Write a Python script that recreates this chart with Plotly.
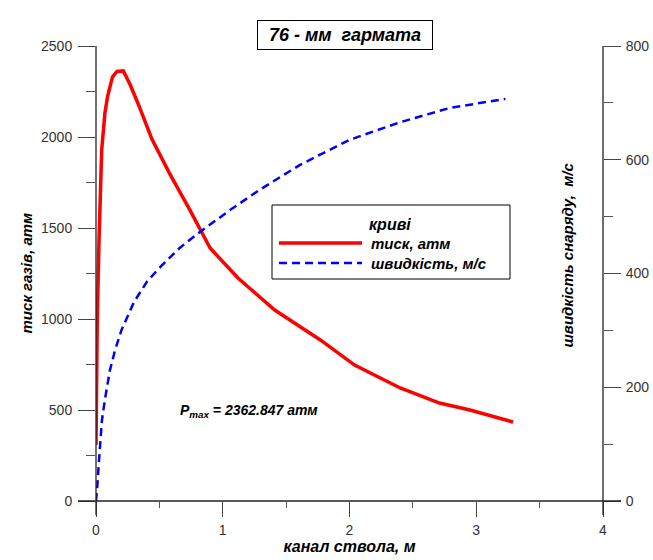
import plotly.graph_objects as go

# Gas pressure along the barrel (м, атм)
x_pressure = [0, 0.01, 0.024, 0.045, 0.07, 0.092, 0.13, 0.165, 0.215, 0.268,
              0.334, 0.44, 0.58, 0.74, 0.9, 1.12, 1.41, 1.77, 2.04, 2.4,
              2.71, 2.95, 3.29]
pressure = [308, 1000, 1440, 1930, 2130, 2225, 2330, 2360, 2362.847, 2290,
            2180, 1990, 1800, 1600, 1390, 1225, 1049, 885, 747, 621,
            538, 500, 434]

# Projectile velocity along the barrel (м, м/с)
x_velocity = [0, 0.008, 0.024, 0.047, 0.07, 0.11, 0.15, 0.2, 0.3, 0.4, 0.5,
              0.66, 0.82, 1.06, 1.29, 1.61, 2.0, 2.4, 2.79, 3.23]
velocity = [0, 19, 72, 142, 178, 230, 265, 300, 350, 385, 410,
            445, 473, 512, 547, 591, 635, 666, 691, 707]

p_max = max(pressure)

FONT = "Liberation Sans, Arial, sans-serif"
W, H = 653, 560
L, R, T, B = 96, 50, 46, 59
PW, PH = W - L - R, H - T - B


def px(xp):
    return (xp - L) / PW


def py(yp):
    return (H - B - yp) / PH


fig = go.Figure()
fig.add_trace(go.Scatter(
    x=x_pressure, y=pressure, mode="lines", name="тиск, атм",
    line=dict(color="#ff0000", width=3.5), yaxis="y", showlegend=False))
fig.add_trace(go.Scatter(
    x=x_velocity, y=velocity, mode="lines", name="швидкість, м/с",
    line=dict(color="#0000ff", width=2.5, dash="8px,5px"), yaxis="y2",
    showlegend=False))

tick_font = dict(family=FONT, size=14, color="#333333")
axis_common = dict(showgrid=False, zeroline=False, showline=False,
                   ticks="outside", tickcolor="#444444", tickwidth=1.3,
                   tickfont=tick_font, automargin=False)
minor_style = dict(ticks="outside", tickcolor="#555555", tickwidth=1.3)

fig.update_layout(
    width=W, height=H, margin=dict(l=L, r=R, t=T, b=B, autoexpand=False),
    paper_bgcolor="white", plot_bgcolor="white",
    font=dict(family=FONT),
    xaxis=dict(range=[0, 4], dtick=1, tick0=0, ticklen=15,
               ticklabelstandoff=1,
               title=dict(text="<b><i>канал ствола, м</i></b>", standoff=4,
                          font=dict(family=FONT, size=16, color="black")),
               minor=dict(dtick=0.5, ticklen=6, **minor_style),
               **axis_common),
    yaxis=dict(range=[0, 2500], dtick=500, tick0=0, ticklen=17,
               ticklabelstandoff=3,
               minor=dict(dtick=250, ticklen=9, **minor_style),
               **axis_common),
    yaxis2=dict(range=[0, 800], dtick=200, tick0=0, ticklen=17,
                ticklabelstandoff=2,
                overlaying="y", side="right", anchor="x",
                minor=dict(dtick=100, ticklen=9, **minor_style),
                **axis_common),
)

# Axis lines, extended past the corners
ext_x = 18 / PW
ext_y = 14 / PH
line_style = dict(color="#222222", width=1.3)
fig.add_shape(type="line", xref="paper", yref="paper",
              x0=-ext_x, x1=1 + ext_x, y0=0, y1=0, line=line_style)
fig.add_shape(type="line", xref="paper", yref="paper",
              x0=0, x1=0, y0=-ext_y, y1=1, line=line_style)
fig.add_shape(type="line", xref="paper", yref="paper",
              x0=1, x1=1, y0=-ext_y, y1=1, line=line_style)

bi = dict(family=FONT, color="black")

# Title box
fig.add_annotation(xref="paper", yref="paper", x=px(345), y=py(20),
                   text="<b><i>76 - мм  гармата</i></b>", showarrow=False,
                   font=dict(size=18, **bi), width=172, height=26,
                   bordercolor="black", borderwidth=1, borderpad=1,
                   bgcolor="white")

# Vertical axis titles
fig.add_annotation(xref="paper", yref="paper", x=px(15), y=py(273),
                   text="<b><i>тиск газів, атм</i></b>", showarrow=False,
                   textangle=-90, font=dict(size=15, **bi))
fig.add_annotation(xref="paper", yref="paper", x=px(577), y=py(255),
                   text="<b><i>швидкість снаряду,  м/с</i></b>",
                   showarrow=False, textangle=-90, font=dict(size=15, **bi))

# Peak pressure note
fig.add_annotation(xref="paper", yref="paper", x=px(178), y=py(422),
                   xanchor="left",
                   text=f"<b><i>P<sub>max</sub> = {p_max:.3f} атм</i></b>",
                   showarrow=False, font=dict(size=14, **bi))

# Legend panel
fig.add_shape(type="rect", xref="paper", yref="paper",
              x0=px(272), x1=px(510), y0=py(279), y1=py(205),
              line=dict(color="black", width=1), fillcolor="white")
fig.add_annotation(xref="paper", yref="paper", x=px(390), y=py(224),
                   text="<b><i>криві</i></b>", showarrow=False,
                   font=dict(size=16, **bi))
fig.add_shape(type="line", xref="paper", yref="paper",
              x0=px(279), x1=px(362), y0=py(243), y1=py(243),
              line=dict(color="#ff0000", width=3.5))
fig.add_shape(type="line", xref="paper", yref="paper",
              x0=px(279), x1=px(362), y0=py(263), y1=py(263),
              line=dict(color="#0000ff", width=2.5, dash="8px,5px"))
fig.add_annotation(xref="paper", yref="paper", x=px(369), y=py(243),
                   xanchor="left", text="<b><i>тиск, атм</i></b>",
                   showarrow=False, font=dict(size=15, **bi))
fig.add_annotation(xref="paper", yref="paper", x=px(369), y=py(263),
                   xanchor="left", text="<b><i>швидкість, м/с</i></b>",
                   showarrow=False, font=dict(size=15, **bi))

fig.write_html("out.html")
